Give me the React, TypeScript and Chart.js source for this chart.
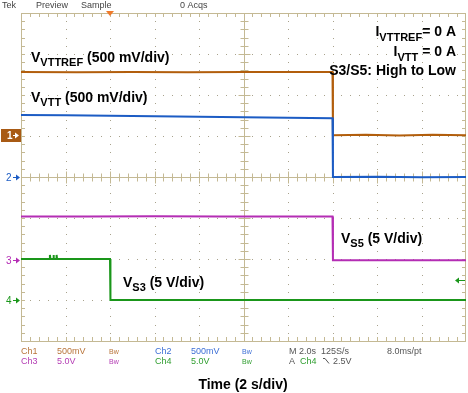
import React, { useEffect, useRef } from "react";
import { Chart, registerables } from "chart.js";

Chart.register(...registerables);

// ---- data (time in s, values in V) ----
const TIME_VTTREF = [0, 2.5, 5, 7.5, 10, 12.5, 14.0, 14.02, 15.5, 17, 18.5, 20];
const VTTREF_V = [0.77, 0.768, 0.772, 0.768, 0.772, 0.77, 0.77, 0.0, 0.004, -0.004, 0.004, 0.0];

const TIME_VTT = [0, 2, 4, 6, 8, 10, 12, 14.0, 14.02, 16, 18, 20];
const VTT_V = [0.757, 0.752, 0.746, 0.742, 0.735, 0.728, 0.722, 0.716, 0.0, 0.004, -0.004, 0.0];

const TIME_VS5 = [0, 3, 6, 9, 12, 14.0, 14.02, 17, 20];
const VS5_V = [5.33, 5.33, 5.35, 5.33, 5.33, 5.33, 0.0, 0.0, 0.0];

const TIME_VS3 = [0, 1.28, 1.3, 1.32, 1.44, 1.46, 1.48, 1.58, 1.6, 1.62, 4.0, 4.02, 8, 12, 16, 20];
const VS3_V = [5.0, 5.0, 5.5, 5.0, 5.0, 5.5, 5.0, 5.0, 5.5, 5.0, 5.0, 0.0, 0.0, 0.0, 0.0, 0.0];

// channel settings: volts/div and ground offset in divisions
const CH_VOLTS_PER_DIV = [0.5, 0.5, 5, 5];
const CH_OFFSET_DIV = [1.02, 0, -2.03, -3.0];
const TRIG_TIME = 4;
const TRIG_LEVEL = 2.5;
const TIME_PER_DIV = 2;
const X_DIVS = 10;
const Y_DIVS = 8;

const TRACE_COLORS = ["#b25e0c", "#1c5cc4", "#b42db4", "#1a961a"];
const TEXT_COLORS = ["#b8743a", "#3d6fd6", "#b43cb4", "#2f9e2f"];
const GRAT = "#c4b994";
const DOT = "#a8a28c";
const SANS = '"Liberation Sans", Arial, sans-serif';

function toPoints(t: number[], v: number[], ch: number) {
  return t.map((tt, i) => ({ x: tt, y: CH_OFFSET_DIV[ch] + v[i] / CH_VOLTS_PER_DIV[ch] }));
}

type Part = { t: string; sub?: boolean };
function drawSeq(ctx: CanvasRenderingContext2D, x: number, y: number, parts: Part[], align: "left" | "right" = "left", subDy = 4) {
  const main = `bold 14px ${SANS}`;
  const sub = `bold 11px ${SANS}`;
  let total = 0;
  for (const p of parts) {
    ctx.font = p.sub ? sub : main;
    total += ctx.measureText(p.t).width;
  }
  let cx = align === "right" ? x - total : x;
  ctx.textAlign = "left";
  for (const p of parts) {
    ctx.font = p.sub ? sub : main;
    ctx.fillText(p.t, cx, p.sub ? y + subDy : y);
    cx += ctx.measureText(p.t).width;
  }
}

function arrowRight(ctx: CanvasRenderingContext2D, x0: number, x1: number, y: number, color: string) {
  ctx.strokeStyle = color;
  ctx.fillStyle = color;
  ctx.lineWidth = 1;
  ctx.beginPath();
  ctx.moveTo(x0, y + 0.5);
  ctx.lineTo(x1 - 2, y + 0.5);
  ctx.stroke();
  ctx.beginPath();
  ctx.moveTo(x1, y + 0.5);
  ctx.lineTo(x1 - 4, y - 2.5);
  ctx.lineTo(x1 - 4, y + 3.5);
  ctx.closePath();
  ctx.fill();
}

const graticule = {
  id: "graticule",
  beforeDatasetsDraw(chart: any) {
    const { ctx, chartArea: a, scales } = chart;
    const xs = scales.x;
    const ys = scales.y;
    const L = Math.round(a.left), R = Math.round(a.right), T = Math.round(a.top), B = Math.round(a.bottom);
    ctx.save();
    // dotted grid
    ctx.fillStyle = DOT;
    for (let i = 1; i < X_DIVS; i++) {
      if (i === X_DIVS / 2) continue;
      const px = Math.round(xs.getPixelForValue(i * TIME_PER_DIV));
      for (let k = 1; k < Y_DIVS * 5; k++) {
        const py = Math.round(ys.getPixelForValue(-Y_DIVS / 2 + k * 0.2));
        ctx.fillRect(px, py, 1, 1);
      }
    }
    for (let j = -Y_DIVS / 2 + 1; j < Y_DIVS / 2; j++) {
      if (j === 0) continue;
      const py = Math.round(ys.getPixelForValue(j));
      for (let k = 1; k < X_DIVS * 5; k++) {
        const px = Math.round(xs.getPixelForValue(k * 0.2 * TIME_PER_DIV));
        ctx.fillRect(px, py, 1, 1);
      }
    }
    ctx.strokeStyle = GRAT;
    ctx.lineWidth = 1;
    // border
    ctx.strokeRect(L + 0.5, T + 0.5, R - L - 1, B - T);
    // center cross
    const cx = Math.round(xs.getPixelForValue((X_DIVS / 2) * TIME_PER_DIV)) + 0.5;
    const cy = Math.round(ys.getPixelForValue(0)) + 0.5;
    ctx.beginPath();
    ctx.moveTo(cx, T);
    ctx.lineTo(cx, B);
    ctx.moveTo(L, cy);
    ctx.lineTo(R, cy);
    // ticks along x
    for (let k = 1; k < X_DIVS * 5; k++) {
      const px = Math.round(xs.getPixelForValue(k * 0.2 * TIME_PER_DIV)) + 0.5;
      const len = k % 5 === 0 ? 6 : 4;
      ctx.moveTo(px, T);
      ctx.lineTo(px, T + 4);
      ctx.moveTo(px, B);
      ctx.lineTo(px, B - 4);
      ctx.moveTo(px, cy - len);
      ctx.lineTo(px, cy + len);
    }
    for (let k = 1; k < Y_DIVS * 5; k++) {
      const py = Math.round(ys.getPixelForValue(-Y_DIVS / 2 + k * 0.2)) + 0.5;
      const len = k % 5 === 0 ? 6 : 4;
      ctx.moveTo(L, py);
      ctx.lineTo(L + 4, py);
      ctx.moveTo(R, py);
      ctx.lineTo(R - 4, py);
      ctx.moveTo(cx - len, py);
      ctx.lineTo(cx + len, py);
    }
    ctx.stroke();
    ctx.restore();
  },
  afterDraw(chart: any) {
    const { ctx, chartArea: a, scales } = chart;
    const xs = scales.x;
    const ys = scales.y;
    ctx.save();
    ctx.textBaseline = "alphabetic";
    // status line
    ctx.font = `9px ${SANS}`;
    ctx.fillStyle = "#444";
    ctx.textAlign = "left";
    ctx.fillText("Tek", 2, 8);
    ctx.fillText("Preview", 36, 8);
    ctx.fillText("Sample", 81, 8);
    ctx.fillText("0 Acqs", 180, 8);

    // trigger position marker
    const tx = xs.getPixelForValue(TRIG_TIME);
    ctx.fillStyle = "#f07a2a";
    ctx.beginPath();
    ctx.moveTo(tx - 4, a.top - 2);
    ctx.lineTo(tx + 4, a.top - 2);
    ctx.lineTo(tx, a.top + 3);
    ctx.closePath();
    ctx.fill();

    // channel ground markers
    const y1 = Math.round(ys.getPixelForValue(CH_OFFSET_DIV[0]));
    ctx.fillStyle = "#a85a14";
    ctx.fillRect(1, y1 - 6, 20, 13);
    ctx.fillStyle = "#ffffff";
    ctx.font = `bold 10px ${SANS}`;
    ctx.fillText("1", 7, y1 + 4);
    arrowRight(ctx, 13, 19, y1, "#ffffff");
    const labels = ["2", "3", "4"];
    for (let c = 1; c < 4; c++) {
      const yy = Math.round(ys.getPixelForValue(CH_OFFSET_DIV[c]));
      ctx.fillStyle = TRACE_COLORS[c];
      ctx.font = `10px ${SANS}`;
      ctx.fillText(labels[c - 1], 6, yy + 4);
      arrowRight(ctx, 13, 20, yy, TRACE_COLORS[c]);
    }
    // trigger level arrow (right, pointing left)
    const ty = Math.round(ys.getPixelForValue(CH_OFFSET_DIV[3] + TRIG_LEVEL / CH_VOLTS_PER_DIV[3]));
    ctx.strokeStyle = TRACE_COLORS[3];
    ctx.fillStyle = TRACE_COLORS[3];
    ctx.beginPath();
    ctx.moveTo(a.right - 1, ty + 0.5);
    ctx.lineTo(a.right - 9, ty + 0.5);
    ctx.stroke();
    ctx.beginPath();
    ctx.moveTo(a.right - 11, ty + 0.5);
    ctx.lineTo(a.right - 7, ty - 2.5);
    ctx.lineTo(a.right - 7, ty + 3.5);
    ctx.closePath();
    ctx.fill();

    // annotations
    ctx.fillStyle = "#000";
    drawSeq(ctx, 31, 62, [{ t: "V" }, { t: "VTTREF", sub: true }, { t: " (500 mV/div)" }]);
    drawSeq(ctx, 31, 102, [{ t: "V" }, { t: "VTT", sub: true }, { t: " (500 mV/div)" }]);
    drawSeq(ctx, 456, 36, [{ t: "I" }, { t: "VTTREF", sub: true }, { t: "= 0 A" }], "right", 5);
    drawSeq(ctx, 456, 56, [{ t: "I" }, { t: "VTT", sub: true }, { t: " = 0 A" }], "right", 5);
    drawSeq(ctx, 456, 75, [{ t: "S3/S5: High to Low" }], "right");
    drawSeq(ctx, 341, 243, [{ t: "V" }, { t: "S5", sub: true }, { t: " (5 V/div)" }]);
    drawSeq(ctx, 123, 287, [{ t: "V" }, { t: "S3", sub: true }, { t: " (5 V/div)" }]);

    // bottom status
    const r1 = 354, r2 = 364;
    const put = (s: string, x: number, y: number, c: string, size = 9) => {
      ctx.font = `${size}px ${SANS}`;
      ctx.fillStyle = c;
      ctx.textAlign = "left";
      ctx.fillText(s, x, y);
    };
    put("Ch1", 21, r1, TEXT_COLORS[0]);
    put("500mV", 57, r1, TEXT_COLORS[0]);
    put("Bw", 109, r1, TEXT_COLORS[0], 7);
    put("Ch2", 155, r1, TEXT_COLORS[1]);
    put("500mV", 191, r1, TEXT_COLORS[1]);
    put("Bw", 242, r1, TEXT_COLORS[1], 7);
    put("M 2.0s  125S/s", 289, r1, "#555");
    put("8.0ms/pt", 387, r1, "#555");
    put("Ch3", 21, r2, TEXT_COLORS[2]);
    put("5.0V", 57, r2, TEXT_COLORS[2]);
    put("Bw", 109, r2, TEXT_COLORS[2], 7);
    put("Ch4", 155, r2, TEXT_COLORS[3]);
    put("5.0V", 191, r2, TEXT_COLORS[3]);
    put("Bw", 242, r2, TEXT_COLORS[3], 7);
    put("A", 289, r2, "#555");
    put("Ch4", 300, r2, TEXT_COLORS[3]);
    put("2.5V", 333, r2, "#555");
    // falling-edge symbol
    ctx.strokeStyle = "#555";
    ctx.lineWidth = 1;
    ctx.beginPath();
    ctx.moveTo(323, 358.5);
    ctx.lineTo(325, 358.5);
    ctx.lineTo(329, 363.5);
    ctx.stroke();

    // axis title
    ctx.fillStyle = "#000";
    ctx.font = `bold 14px ${SANS}`;
    ctx.textAlign = "center";
    ctx.fillText(`Time (${TIME_PER_DIV} s/div)`, 243, 389);
    ctx.restore();
  },
};

export default function App() {
  const ref = useRef<HTMLCanvasElement | null>(null);
  useEffect(() => {
    if (!ref.current) return;
    const mk = (label: string, t: number[], v: number[], ch: number) => ({
      label,
      data: toPoints(t, v, ch),
      borderColor: TRACE_COLORS[ch],
      backgroundColor: TRACE_COLORS[ch],
      borderWidth: 2,
      pointRadius: 0,
      tension: 0,
      fill: false,
    });
    const chart = new Chart(ref.current, {
      type: "line",
      data: {
        datasets: [
          mk("VS3", TIME_VS3, VS3_V, 3),
          mk("VS5", TIME_VS5, VS5_V, 2),
          mk("VTT", TIME_VTT, VTT_V, 1),
          mk("VTTREF", TIME_VTTREF, VTTREF_V, 0),
        ],
      },
      options: {
        animation: false,
        responsive: false,
        devicePixelRatio: 1,
        layout: { padding: { left: 21, right: 2, top: 13, bottom: 52 } },
        plugins: { legend: { display: false }, tooltip: { enabled: false }, title: { display: false } },
        scales: {
          x: { type: "linear", min: 0, max: X_DIVS * TIME_PER_DIV, display: false },
          y: { type: "linear", min: -Y_DIVS / 2, max: Y_DIVS / 2, display: false },
        },
      },
      plugins: [graticule],
    } as any);
    return () => chart.destroy();
  }, []);
  return (
    <div style={{ position: "absolute", left: 0, top: 0, width: 468, height: 393, background: "#fff" }}>
      <canvas ref={ref} width={468} height={393} style={{ width: 468, height: 393 }} />
    </div>
  );
}
